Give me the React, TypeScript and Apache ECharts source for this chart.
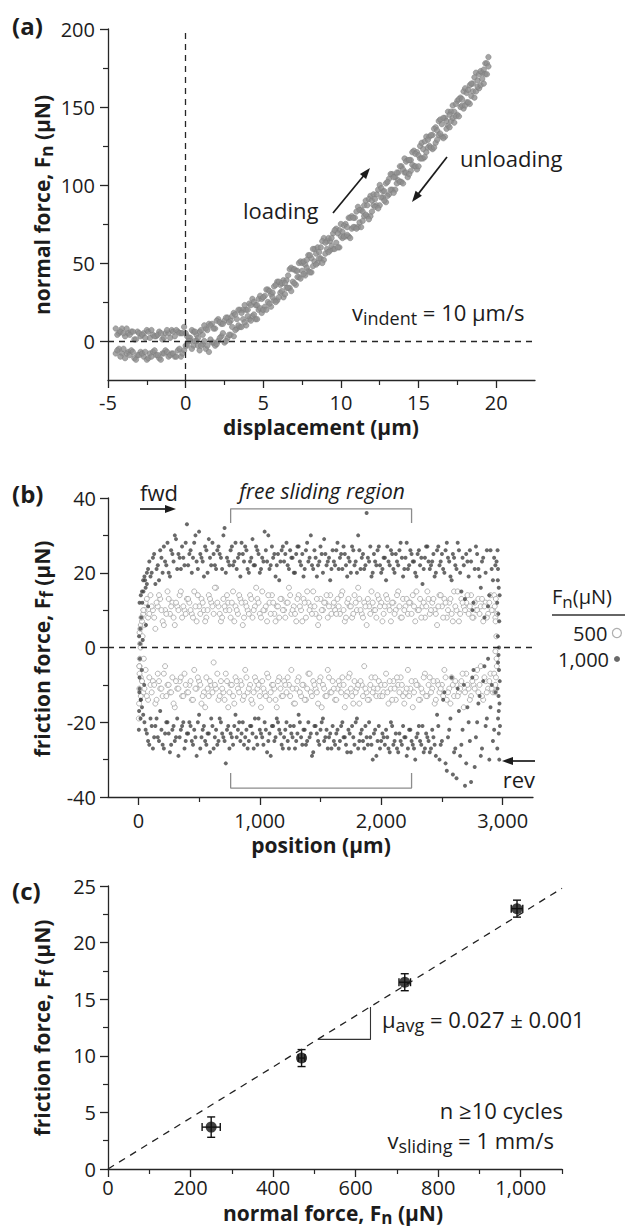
import React, { useEffect, useRef } from 'react';
import * as echarts from 'echarts';

const FONT = "'Open Sans', 'Noto Sans', 'DejaVu Sans', sans-serif";
const INK = '#1c1c1c';
const AXIS = '#262626';

// ---------- Panel (a): indentation ----------
const aDisplacement = [
  -4.5, -4.3, -4.1, -3.9, -3.7, -3.5, -3.3, -3.1, -2.9, -2.7, -2.5, -2.3, -2.1, -1.9, -1.7, -1.5, -1.3, -1.1, -0.9, -0.7,
  -0.5, -0.3, -0.1, 0.1, 0.3, 0.5, 0.7, 0.9, 1.1, 1.3, 1.5, 1.7, 1.9, 2.1, 2.3, 2.5, 2.7, 2.9, 3.1, 3.3,
  3.5, 3.7, 3.9, 4.1, 4.3, 4.5, 4.7, 4.9, 5.1, 5.3, 5.5, 5.7, 5.9, 6.1, 6.3, 6.5, 6.7, 6.9, 7.1, 7.3,
  7.5, 7.7, 7.9, 8.1, 8.3, 8.5, 8.7, 8.9, 9.1, 9.3, 9.5, 9.7, 9.9, 10.1, 10.3, 10.5, 10.7, 10.9, 11.1, 11.3,
  11.5, 11.7, 11.9, 12.1, 12.3, 12.5, 12.7, 12.9, 13.1, 13.3, 13.5, 13.7, 13.9, 14.1, 14.3, 14.5, 14.7, 14.9, 15.1, 15.3,
  15.5, 15.7, 15.9, 16.1, 16.3, 16.5, 16.7, 16.9, 17.1, 17.3, 17.5, 17.7, 17.9, 18.1, 18.3, 18.5, 18.7, 18.9, 19.1, 19.3,
  19.5,
];
const aLoading = [
  8, 5, 8, 3, 5, 6, 1, 6, 3, 5, 7, 2, 4, 3, 6, 1, 5, 5, 7, 3,
  6, 5, 9, 3, 2, 6, 4, 6, 4, 8, 11, 11, 8, 14, 11, 13, 15, 13, 18, 14,
  20, 20, 20, 24, 27, 23, 27, 27, 29, 33, 30, 35, 38, 36, 39, 39, 46, 46, 45, 50,
  50, 49, 55, 53, 59, 60, 60, 66, 64, 64, 69, 72, 71, 70, 75, 79, 80, 79, 86, 84,
  87, 87, 93, 94, 94, 100, 96, 101, 104, 107, 105, 108, 112, 117, 116, 116, 122, 121, 125, 123,
  131, 131, 132, 137, 141, 139, 143, 147, 147, 147, 154, 156, 160, 159, 164, 165, 172, 171, 172, 178,
  182,
];
const aUnloading = [
  -8, -5, -8, -11, -7, -6, -11, -9, -7, -10, -12, -8, -7, -9, -11, -8, -6, -10, -8, -10,
  -6, -10, -6, -3, 0, -3, 0, -6, -2, -5, -7, -1, -3, 0, 3, -1, 2, 4, 3, 8,
  9, 14, 10, 14, 16, 14, 20, 18, 22, 25, 22, 26, 26, 31, 28, 34, 34, 38, 36, 41,
  45, 42, 45, 44, 51, 50, 53, 52, 59, 58, 59, 63, 60, 66, 67, 67, 72, 73, 73, 73,
  80, 80, 80, 87, 87, 87, 92, 89, 94, 97, 97, 103, 102, 108, 105, 109, 112, 110, 117, 117,
  121, 125, 123, 127, 132, 131, 131, 138, 141, 140, 145, 150, 149, 153, 152, 160, 160, 162, 168, 171,
  176,
];
const aDisplacement2 = [
  -4.4, -4.2, -4.0, -3.8, -3.6, -3.4, -3.2, -3.0, -2.8, -2.6, -2.4, -2.2, -2.0, -1.8, -1.6, -1.4, -1.2, -1.0, -0.8, -0.6,
  -0.4, -0.2, 0, 0.2, 0.4, 0.6, 0.8, 1.0, 1.2, 1.4, 1.6, 1.8, 2.0, 2.2, 2.4, 2.6, 2.8, 3.0, 3.2, 3.4,
  3.6, 3.8, 4.0, 4.2, 4.4, 4.6, 4.8, 5.0, 5.2, 5.4, 5.6, 5.8, 6.0, 6.2, 6.4, 6.6, 6.8, 7.0, 7.2, 7.4,
  7.6, 7.8, 8.0, 8.2, 8.4, 8.6, 8.8, 9.0, 9.2, 9.4, 9.6, 9.8, 10.0, 10.2, 10.4, 10.6, 10.8, 11.0, 11.2, 11.4,
  11.6, 11.8, 12.0, 12.2, 12.4, 12.6, 12.8, 13.0, 13.2, 13.4, 13.6, 13.8, 14.0, 14.2, 14.4, 14.6, 14.8, 15.0, 15.2, 15.4,
  15.6, 15.8, 16.0, 16.2, 16.4, 16.6, 16.8, 17.0, 17.2, 17.4, 17.6, 17.8, 18.0, 18.2, 18.4, 18.6, 18.8, 19.0, 19.2, 19.4,
];
const aLoading2 = [
  4, 6, 5, 8, 4, 6, 1, 5, 4, 2, 6, 7, 3, 4, 5, 2, 7, 2, 6, 7,
  5, 5, 5, 2, 7, 6, 2, 7, 10, 7, 10, 8, 13, 12, 11, 15, 12, 16, 17, 20,
  18, 23, 20, 23, 25, 23, 29, 28, 33, 32, 31, 36, 38, 37, 37, 42, 47, 46, 45, 51,
  51, 52, 55, 59, 56, 57, 64, 63, 66, 66, 71, 69, 75, 74, 73, 79, 79, 83, 84, 83,
  90, 91, 90, 91, 97, 98, 96, 102, 107, 105, 108, 112, 110, 115, 116, 121, 120, 119, 127, 128,
  129, 132, 136, 135, 142, 143, 141, 145, 151, 152, 155, 155, 162, 161, 165, 169, 167, 173, 174, 178,
];
const aUnloading2 = [
  -6, -10, -5, -8, -9, -7, -12, -9, -8, -7, -11, -10, -6, -9, -12, -8, -7, -9, -8, -10,
  -5, -8, -3, 0, -5, 0, -3, -3, 0, -3, 1, -1, -2, 2, 5, 0, 4, 9, 7, 10,
  9, 12, 16, 13, 17, 14, 21, 20, 20, 24, 28, 25, 28, 32, 30, 34, 32, 37, 41, 40,
  43, 47, 44, 48, 49, 53, 50, 56, 57, 61, 59, 60, 67, 67, 68, 66, 73, 72, 76, 77,
  81, 78, 83, 86, 85, 92, 90, 93, 97, 95, 101, 102, 101, 108, 107, 113, 112, 112, 117, 118,
  124, 124, 124, 129, 133, 130, 136, 137, 143, 144, 144, 151, 151, 153, 157, 156, 163, 164, 165, 171,
];
const aXLabels = [-5, 0, 5, 10, 15, 20];
const aXMinor = [-2.5, 2.5, 7.5, 12.5, 17.5];
const aYLabels = [0, 50, 100, 150, 200];
const aYMinor = [25, 75, 125, 175];

// ---------- Panel (b): reciprocal sliding ----------
const bPosition = [
  20, 40, 60, 80, 100, 120, 140, 160, 180, 200, 220, 240, 260, 280, 300, 320, 340, 360, 380, 400,
  420, 440, 460, 480, 500, 520, 540, 560, 580, 600, 620, 640, 660, 680, 700, 720, 740, 760, 780, 800,
  820, 840, 860, 880, 900, 920, 940, 960, 980, 1000, 1020, 1040, 1060, 1080, 1100, 1120, 1140, 1160, 1180, 1200,
  1220, 1240, 1260, 1280, 1300, 1320, 1340, 1360, 1380, 1400, 1420, 1440, 1460, 1480, 1500, 1520, 1540, 1560, 1580, 1600,
  1620, 1640, 1660, 1680, 1700, 1720, 1740, 1760, 1780, 1800, 1820, 1840, 1860, 1880, 1900, 1920, 1940, 1960, 1980, 2000,
  2020, 2040, 2060, 2080, 2100, 2120, 2140, 2160, 2180, 2200, 2220, 2240, 2260, 2280, 2300, 2320, 2340, 2360, 2380, 2400,
  2420, 2440, 2460, 2480, 2500, 2520, 2540, 2560, 2580, 2600, 2620, 2640, 2660, 2680, 2700, 2720, 2740, 2760, 2780, 2800,
  2820, 2840, 2860, 2880, 2900, 2920, 2940,
];
const bPosition2 = [
  10, 30, 50, 70, 90, 110, 130, 150, 170, 190, 210, 230, 250, 270, 290, 310, 330, 350, 370, 390,
  410, 430, 450, 470, 490, 510, 530, 550, 570, 590, 610, 630, 650, 670, 690, 710, 730, 750, 770, 790,
  810, 830, 850, 870, 890, 910, 930, 950, 970, 990, 1010, 1030, 1050, 1070, 1090, 1110, 1130, 1150, 1170, 1190,
  1210, 1230, 1250, 1270, 1290, 1310, 1330, 1350, 1370, 1390, 1410, 1430, 1450, 1470, 1490, 1510, 1530, 1550, 1570, 1590,
  1610, 1630, 1650, 1670, 1690, 1710, 1730, 1750, 1770, 1790, 1810, 1830, 1850, 1870, 1890, 1910, 1930, 1950, 1970, 1990,
  2010, 2030, 2050, 2070, 2090, 2110, 2130, 2150, 2170, 2190, 2210, 2230, 2250, 2270, 2290, 2310, 2330, 2350, 2370, 2390,
  2410, 2430, 2450, 2470, 2490, 2510, 2530, 2550, 2570, 2590, 2610, 2630, 2650, 2670, 2690, 2710, 2730, 2750, 2770, 2790,
  2810, 2830, 2850, 2870, 2890, 2910, 2930,
];
const bFwd500 = [
  6, 9, 12, 8, 14, 10, 5, 11, 13, 7, 10, 15, 9, 12, 6, 11, 14, 8, 10, 13,
  12, 9, 15, 7, 11, 13, 10, 8, 14, 12, 9, 16, 11, 7, 13, 10, 12, 8, 15, 11,
  9, 13, 6, 12, 10, 14, 8, 11, 13, 9, 15, 10, 7, 12, 14, 9, 11, 8, 13, 10,
  12, 16, 9, 11, 7, 14, 10, 13, 8, 12, 11, 15, 9, 6, 13, 10, 12, 8, 14, 11,
  10, 13, 9, 15, 7, 12, 11, 8, 14, 10, 13, 9, 12, 6, 11, 15, 10, 8, 13, 12,
  9, 14, 11, 7, 12, 10, 15, 8, 13, 11, 9, 12, 14, 7, 10, 13, 11, 8, 15, 9,
  12, 10, 6, 14, 11, 13, 8, 12, 9, 15, 10, 7, 13, 11, 12, 9, 14, 8, 10, 13,
  11, 7, 12, 9, 14, 10, 8,
];
const bFwd500b = [
  4, 7, 10, 13, 9, 11, 8, 12, 14, 10, 6, 9, 13, 11, 8, 12, 10, 15, 11, 9,
  13, 10, 8, 11, 14, 9, 12, 7, 10, 13, 11, 16, 12, 9, 8, 11, 14, 10, 12, 7,
  10, 14, 12, 8, 11, 9, 13, 10, 16, 12, 8, 10, 11, 14, 9, 12, 7, 11, 13, 10,
  8, 12, 14, 10, 9, 13, 11, 7, 12, 15, 10, 9, 11, 13, 8, 10, 12, 14, 11, 9,
  12, 9, 11, 14, 10, 8, 13, 11, 9, 12, 16, 10, 8, 11, 13, 9, 12, 10, 14, 11,
  7, 11, 13, 10, 12, 9, 14, 11, 8, 10, 13, 12, 9, 11, 15, 10, 8, 12, 11, 13,
  10, 13, 9, 11, 14, 8, 12, 10, 13, 7, 11, 15, 9, 12, 10, 14, 11, 8, 12, 10,
  9, 13, 11, 8, 12, 10, 14,
];
const bRev500 = [
  -8, -12, -6, -14, -10, -9, -15, -7, -11, -13, -5, -10, -12, -8, -16, -11, -9, -13, -7, -12,
  -10, -14, -6, -11, -9, -15, -12, -8, -13, -10, -4, -11, -14, -9, -12, -7, -16, -10, -13, -8,
  -11, -9, -14, -6, -12, -10, -15, -8, -11, -13, -9, -12, -7, -14, -10, -11, -16, -8, -13, -9,
  -12, -10, -6, -15, -11, -8, -13, -10, -14, -7, -12, -9, -11, -15, -8, -10, -13, -6, -12, -9,
  -14, -11, -10, -8, -16, -12, -7, -13, -9, -11, -15, -10, -5, -12, -14, -8, -11, -13, -9, -10,
  -12, -7, -15, -11, -9, -14, -10, -8, -13, -12, -6, -11, -16, -9, -10, -14, -12, -7, -13, -8,
  -11, -15, -9, -12, -10, -6, -14, -11, -8, -13, -10, -12, -9, -16, -7, -11, -13, -10, -8, -12,
  -5, -14, -9, -11, -7, -12, -10,
];
const bRev500b = [
  -5, -9, -11, -13, -8, -12, -10, -14, -9, -11, -7, -13, -10, -12, -15, -9, -11, -8, -13, -10,
  -12, -9, -14, -11, -8, -10, -13, -16, -11, -9, -12, -10, -7, -13, -11, -14, -9, -12, -10, -15,
  -9, -12, -10, -13, -8, -11, -14, -12, -9, -10, -16, -11, -13, -8, -12, -10, -14, -9, -11, -13,
  -10, -8, -13, -11, -15, -9, -12, -10, -14, -11, -7, -13, -10, -12, -9, -16, -11, -13, -8, -12,
  -11, -14, -9, -12, -10, -13, -8, -11, -15, -12, -10, -9, -13, -11, -14, -10, -12, -8, -11, -13,
  -13, -10, -12, -9, -14, -11, -8, -12, -10, -15, -11, -13, -9, -12, -10, -14, -11, -8, -13, -10,
  -12, -9, -14, -10, -11, -13, -8, -12, -15, -10, -9, -13, -11, -7, -12, -10, -14, -9, -11, -6,
  -10, -13, -8, -12, -9, -11, -7,
];
const bFwd1000 = [
  14, 18, 16, 21, 19, 24, 17, 22, 26, 20, 23, 28, 19, 25, 30, 21, 24, 27, 22, 33,
  25, 20, 28, 23, 31, 24, 19, 26, 29, 22, 25, 21, 27, 24, 30, 20, 23, 26, 22, 28,
  24, 19, 25, 27, 21, 23, 29, 22, 26, 20, 24, 31, 23, 21, 27, 25, 22, 18, 26, 23,
  28, 21, 24, 20, 25, 27, 22, 19, 26, 23, 30, 21, 24, 22, 27, 20, 25, 23, 18, 26,
  22, 28, 24, 21, 25, 19, 23, 27, 22, 20, 26, 24, 21, 36, 23, 19, 25, 22, 27, 20,
  24, 18, 23, 26, 21, 25, 22, 28, 19, 24, 21, 26, 23, 20, 25, 22, 17, 24, 27, 21,
  23, 19, 26, 22, 25, 20, 28, 23, 18, 24, 21, 26, 15, 22, 25, 19, 23, 12, 27, 21,
  16, 24, 20, 11, 26, 18, 22,
];
const bFwd1000b = [
  12, 15, 19, 17, 23, 20, 25, 21, 18, 24, 27, 22, 20, 26, 23, 29, 25, 21, 24, 28,
  22, 26, 24, 30, 21, 25, 23, 27, 20, 24, 28, 22, 26, 25, 21, 32, 24, 22, 27, 23,
  21, 25, 28, 23, 26, 20, 24, 22, 27, 25, 21, 23, 26, 30, 22, 24, 19, 25, 23, 27,
  25, 22, 26, 24, 20, 27, 23, 25, 21, 28, 24, 22, 26, 19, 23, 25, 29, 22, 24, 21,
  23, 26, 21, 25, 27, 22, 24, 20, 26, 23, 30, 21, 25, 22, 24, 27, 20, 23, 26, 22,
  21, 24, 27, 22, 25, 20, 23, 26, 24, 21, 28, 22, 25, 23, 19, 26, 24, 21, 27, 23,
  22, 25, 20, 27, 23, 21, 26, 24, 19, 25, 22, 28, 20, 24, 13, 23, 26, 10, 21, 25,
  19, 23, 8, 26, 14, 21, 24,
];
const bRev1000 = [
  -14, -18, -22, -25, -19, -27, -21, -24, -17, -26, -23, -20, -28, -22, -25, -19, -24, -21, -27, -23,
  -20, -25, -22, -29, -18, -24, -21, -26, -23, -19, -27, -22, -25, -20, -24, -31, -21, -23, -26, -18,
  -22, -25, -20, -24, -27, -21, -23, -19, -26, -22, -24, -20, -28, -23, -21, -25, -19, -22, -26, -24,
  -20, -27, -23, -21, -25, -18, -24, -22, -26, -20, -23, -28, -21, -25, -22, -19, -24, -27, -23, -21,
  -26, -22, -25, -20, -24, -28, -23, -21, -26, -19, -25, -22, -27, -24, -20, -26, -23, -29, -21, -25,
  -24, -22, -27, -20, -26, -23, -28, -25, -21, -24, -27, -22, -26, -30, -23, -25, -21, -27, -24, -28,
  -22, -26, -18, -30, -25, -12, -33, -22, -8, -28, -35, -17, -26, -10, -31, -20, -36, -6, -24, -15,
  -29, -9, -21, -3, -16, -25, -12,
];
const bRev1000b = [
  -11, -16, -20, -23, -26, -21, -24, -19, -25, -22, -27, -20, -23, -26, -21, -24, -29, -22, -20, -25,
  -23, -21, -26, -24, -20, -27, -22, -25, -23, -28, -21, -24, -26, -19, -23, -25, -22, -27, -24, -21,
  -24, -20, -23, -26, -22, -25, -21, -27, -24, -19, -23, -26, -22, -25, -29, -21, -24, -20, -23, -27,
  -22, -25, -21, -24, -27, -23, -20, -26, -22, -25, -24, -29, -21, -23, -26, -20, -25, -22, -24, -27,
  -25, -23, -27, -21, -24, -26, -22, -28, -24, -20, -27, -23, -25, -21, -26, -24, -30, -22, -25, -27,
  -23, -26, -24, -28, -21, -25, -27, -23, -26, -24, -29, -22, -25, -27, -24, -21, -26, -28, -23, -25,
  -27, -24, -29, -21, -26, -14, -31, -24, -19, -34, -27, -11, -29, -22, -37, -16, -25, -8, -32, -20,
  -13, -27, -5, -19, -30, -10, -22,
];
// direction reversals (position, friction force)
const bTurn500 = [
  [4, -19], [6, -15], [8, -11], [10, -7], [12, -3], [14, 1], [16, 5], [20, -13], [25, 8], [30, -9],
  [35, 3], [40, 10], [7, -5], [18, 0], [45, -3], [52, 6],
  [2935, 11], [2942, 7], [2948, 3], [2940, -1], [2952, -5], [2945, -8], [2938, -12], [2955, 9], [2950, -3], [2944, 13],
];
const bTurn1000 = [
  [4, -22], [6, -17], [8, -12], [10, -8], [12, -3], [14, 1], [16, 5], [20, -14], [24, 8], [28, -6],
  [32, 12], [36, 2], [42, 15], [48, -10], [55, 18], [62, 6], [70, 20], [80, 11], [6, 3], [18, -19],
  [2958, 26], [2962, 21], [2968, 16], [2955, 12], [2972, 7], [2960, 3], [2966, -2], [2970, -6], [2958, -11], [2974, -15],
  [2962, -19], [2968, -23], [2956, -27], [2972, -30], [2964, 9], [2976, -9], [2960, 18], [2970, 0], [2966, -13], [2978, -21],
  [2950, 23], [2975, 14], [2962, -4], [2968, -17],
];
const bFreeSliding = [760, 2250];
const bXLabels = [0, 1000, 2000, 3000];
const bXMinor = [500, 1500, 2500];
const bYLabels = [-40, -20, 0, 20, 40];
const bYMinor = [-30, -10, 10, 30];

// ---------- Panel (c): friction vs normal force ----------
const cNormalForce = [250, 469, 719, 991];
const cFriction = [3.7, 9.8, 16.5, 23.0];
const cNormalErr = [22, 8, 14, 14];
const cFrictionErr = [0.9, 0.75, 0.75, 0.75];
const cFitX = [0, 1100];
const cFitY = [0, 24.8];
const cXLabels = [0, 200, 400, 600, 800, 1000];
const cXMinor = [100, 300, 500, 700, 900, 1100];
const cYLabels = [0, 5, 10, 15, 20, 25];
const cYMinor = [2.5, 7.5, 12.5, 17.5, 22.5];

const fmt = (v: number) => Number(v).toLocaleString('en-US');
const zip = (xs: number[], ys: number[]) => xs.map((x, i) => [x, ys[i]]);

function mainAxis(dim: 'x' | 'y', gridIndex: number, min: number, max: number, labels: number[], margin: number) {
  return {
    type: 'value', gridIndex, min, max, position: dim === 'x' ? 'bottom' : 'left',
    axisLine: { show: true, onZero: false, lineStyle: { color: AXIS, width: 1.3 } },
    axisTick: { show: true, inside: false, length: 8, customValues: labels, lineStyle: { color: AXIS, width: 1.3 } },
    axisLabel: {
      show: true, customValues: labels, formatter: fmt, margin,
      fontFamily: FONT, fontSize: 20, color: INK, showMinLabel: true, showMaxLabel: true,
    },
    splitLine: { show: false },
  };
}
function minorAxis(dim: 'x' | 'y', gridIndex: number, min: number, max: number, ticks: number[]) {
  return {
    type: 'value', gridIndex, min, max, position: dim === 'x' ? 'bottom' : 'left',
    axisLine: { show: false, onZero: false },
    axisTick: { show: true, inside: false, length: 5, customValues: ticks, lineStyle: { color: AXIS, width: 1.2 } },
    axisLabel: { show: false },
    splitLine: { show: false },
  };
}

const RICH: any = {
  m: { fontFamily: FONT, fontSize: 22, fill: INK },
  s: { fontFamily: FONT, fontSize: 18, fill: INK, padding: [12, 0, 0, 0] },
  b: { fontFamily: FONT, fontSize: 21, fontWeight: 'bold', fill: INK },
  bs: { fontFamily: FONT, fontSize: 17, fontWeight: 'bold', fill: INK, padding: [9, 0, 0, 0] },
  l: { fontFamily: FONT, fontSize: 20, fill: INK },
  ls: { fontFamily: FONT, fontSize: 17, fill: INK, padding: [11, 0, 0, 0] },
  p: { fontFamily: FONT, fontSize: 24, fontWeight: 'bold', fill: INK },
  it: { fontFamily: FONT, fontSize: 21, fontStyle: 'italic', fill: INK },
};

function txt(x: number, y: number, text: string, align = 'left', rotation = 0) {
  return {
    type: 'text', x, y, rotation, silent: true, z: 100,
    style: {
      text, rich: RICH, fill: INK, fontFamily: FONT, fontSize: 22,
      align, verticalAlign: 'middle', textAlign: align, textVerticalAlign: 'middle',
    },
  };
}
function arrow(x1: number, y1: number, x2: number, y2: number) {
  const dx = x2 - x1, dy = y2 - y1, L = Math.hypot(dx, dy), ux = dx / L, uy = dy / L;
  const head = 11, half = 4;
  const bx = x2 - ux * head, by = y2 - uy * head;
  return [
    { type: 'line', silent: true, z: 100, shape: { x1, y1, x2: bx + ux, y2: by + uy }, style: { stroke: INK, lineWidth: 1.7 } },
    {
      type: 'polygon', silent: true, z: 100,
      shape: { points: [[x2, y2], [bx - uy * half, by + ux * half], [bx + uy * half, by - ux * half]] },
      style: { fill: INK },
    },
  ];
}

const dashedZero = (data: any[]) => ({
  silent: true, symbol: ['none', 'none'], label: { show: false },
  lineStyle: { type: [6, 5], color: AXIS, width: 1.3 }, emphasis: { disabled: true }, data,
});

function buildOption() {
  const lightStyle = { color: '#ffffff', borderColor: '#a3a3a3', borderWidth: 1 };
  const darkStyle = { color: '#444444', borderWidth: 0 };
  const aStyle = { color: '#8f8f8f', borderColor: '#7a7a7a', borderWidth: 0.6 };

  const sc = (name: string, xi: number, data: any[], size: number, itemStyle: any, extra: any = {}) => ({
    type: 'scatter', name, xAxisIndex: xi, yAxisIndex: xi, symbolSize: size, silent: true, itemStyle, data, ...extra,
  });

  const series: any[] = [
    // panel a
    sc('loading', 0, zip(aDisplacement, aLoading), 5.5, aStyle),
    sc('loading', 0, zip(aDisplacement2, aLoading2), 5.5, aStyle),
    sc('unloading', 0, zip(aDisplacement, aUnloading), 5.5, aStyle),
    sc('unloading', 0, zip(aDisplacement2, aUnloading2), 5.5, aStyle, { markLine: dashedZero([{ xAxis: 0 }, { yAxis: 0 }]) }),
    // panel b
    sc('500', 2, zip(bPosition, bFwd500), 5, lightStyle),
    sc('500', 2, zip(bPosition2, bFwd500b), 5, lightStyle),
    sc('500', 2, zip(bPosition, bRev500), 5, lightStyle),
    sc('500', 2, zip(bPosition2, bRev500b), 5, lightStyle),
    sc('500', 2, bTurn500, 5, lightStyle),
    sc('1,000', 2, zip(bPosition, bFwd1000), 4, darkStyle),
    sc('1,000', 2, zip(bPosition2, bFwd1000b), 4, darkStyle),
    sc('1,000', 2, zip(bPosition, bRev1000), 4, darkStyle),
    sc('1,000', 2, zip(bPosition2, bRev1000b), 4, darkStyle),
    sc('1,000', 2, bTurn1000, 4, darkStyle),
    {
      type: 'line', name: 'free sliding top', xAxisIndex: 2, yAxisIndex: 2, symbol: 'none', silent: true,
      lineStyle: { color: '#8c8c8c', width: 1.3 },
      data: [[bFreeSliding[0], 33.3], [bFreeSliding[0], 37.1], [bFreeSliding[1], 37.1], [bFreeSliding[1], 33.3]],
      markLine: dashedZero([{ yAxis: 0 }]),
    },
    {
      type: 'line', name: 'free sliding bottom', xAxisIndex: 2, yAxisIndex: 2, symbol: 'none', silent: true,
      lineStyle: { color: '#8c8c8c', width: 1.3 },
      data: [[bFreeSliding[0], -33.6], [bFreeSliding[0], -37.6], [bFreeSliding[1], -37.6], [bFreeSliding[1], -33.6]],
    },
    // panel c
    {
      type: 'line', name: 'fit', xAxisIndex: 4, yAxisIndex: 4, symbol: 'none', silent: true,
      lineStyle: { color: '#222', width: 1.3, type: [7, 6] },
      data: zip(cFitX, cFitY),
    },
    {
      type: 'line', name: 'slope', xAxisIndex: 4, yAxisIndex: 4, symbol: 'none', silent: true,
      lineStyle: { color: '#333', width: 1.1 },
      data: [[508, 11.45], [636, 11.45], [636, 14.3]],
    },
    {
      type: 'custom', name: 'err', xAxisIndex: 4, yAxisIndex: 4, silent: true, z: 3,
      data: cNormalForce.map((x, i) => [x, cFriction[i], cNormalErr[i], cFrictionErr[i]]),
      encode: { x: 0, y: 1 },
      renderItem: (params: any, api: any) => {
        const x = api.value(0), y = api.value(1), xe = api.value(2), ye = api.value(3);
        const t = api.coord([x, y + ye]);
        const b = api.coord([x, y - ye]);
        const l = api.coord([x - xe, y]);
        const r = api.coord([x + xe, y]);
        const cap = 4;
        const st = { stroke: '#111', lineWidth: 1.4 };
        return {
          type: 'group',
          children: [
            { type: 'line', shape: { x1: t[0], y1: t[1], x2: b[0], y2: b[1] }, style: st },
            { type: 'line', shape: { x1: t[0] - cap, y1: t[1], x2: t[0] + cap, y2: t[1] }, style: st },
            { type: 'line', shape: { x1: b[0] - cap, y1: b[1], x2: b[0] + cap, y2: b[1] }, style: st },
            { type: 'line', shape: { x1: l[0], y1: l[1], x2: r[0], y2: r[1] }, style: st },
            { type: 'line', shape: { x1: l[0], y1: l[1] - cap, x2: l[0], y2: l[1] + cap }, style: st },
            { type: 'line', shape: { x1: r[0], y1: r[1] - cap, x2: r[0], y2: r[1] + cap }, style: st },
          ],
        };
      },
    },
    sc('mean', 4, zip(cNormalForce, cFriction), 11, { color: '#111' }, { z: 4 }),
  ];

  const graphics: any[] = [
    // panel labels
    txt(12, 25, '{p|(a)}'),
    txt(12, 493, '{p|(b)}'),
    txt(12, 890, '{p|(c)}'),
    // axis titles
    txt(42, 205, '{b|normal force, F}{bs|n}{b| (µN)}', 'center', Math.PI / 2),
    txt(321, 427, '{b|displacement (µm)}', 'center'),
    txt(42, 649, '{b|friction force, F}{bs|f}{b| (µN)}', 'center', Math.PI / 2),
    txt(321, 845, '{b|position (µm)}', 'center'),
    txt(42, 1028, '{b|friction force, F}{bs|f}{b| (µN)}', 'center', Math.PI / 2),
    txt(333, 1213, '{b|normal force, F}{bs|n}{b| (µN)}', 'center'),
    // panel a annotations
    txt(243, 210, '{m|loading}'),
    ...arrow(333, 213, 370, 168),
    txt(460, 158, '{m|unloading}'),
    ...arrow(447, 157, 412, 202),
    txt(352, 312, '{m|v}{s|indent}{m| = 10 µm/s}'),
    // panel b annotations
    txt(140, 492, '{m|fwd}'),
    ...arrow(140, 509, 176, 509),
    txt(322, 491, '{it|free sliding region}', 'center'),
    txt(535, 779, '{m|rev}', 'right'),
    ...arrow(535, 761, 502, 761),
    txt(552, 596, '{l|F}{ls|n}{l|(µN)}'),
    { type: 'line', silent: true, z: 100, shape: { x1: 552, y1: 615, x2: 625, y2: 615 }, style: { stroke: '#333', lineWidth: 1.3 } },
    // panel c annotations
    txt(382, 1019, '{m|μ}{s|avg}{m| = 0.027 ± 0.001}'),
    txt(563, 1110, '{m|n ≥10 cycles}', 'right'),
    txt(554, 1140, '{m|v}{s|sliding}{m| = 1 mm/s}', 'right'),
  ];

  return {
    animation: false,
    backgroundColor: '#ffffff',
    textStyle: { fontFamily: FONT },
    grid: [
      { left: 108, top: 29, width: 427, height: 351, containLabel: false, outerBoundsMode: 'none' },
      { left: 108, top: 498, width: 425, height: 299, containLabel: false, outerBoundsMode: 'none' },
      { left: 108, top: 886, width: 454, height: 283, containLabel: false, outerBoundsMode: 'none' },
    ],
    xAxis: [
      mainAxis('x', 0, -5, 22.5, aXLabels, 12),
      minorAxis('x', 0, -5, 22.5, aXMinor),
      mainAxis('x', 1, -250, 3250, bXLabels, 13),
      minorAxis('x', 1, -250, 3250, bXMinor),
      mainAxis('x', 2, 0, 1100, cXLabels, 8),
      minorAxis('x', 2, 0, 1100, cXMinor),
    ],
    yAxis: [
      mainAxis('y', 0, -25, 200, aYLabels, 13),
      minorAxis('y', 0, -25, 200, aYMinor),
      mainAxis('y', 1, -40, 40, bYLabels, 12),
      minorAxis('y', 1, -40, 40, bYMinor),
      mainAxis('y', 2, 0, 25, cYLabels, 12),
      minorAxis('y', 2, 0, 25, cYMinor),
    ],
    legend: [
      {
        show: true, selectedMode: false, orient: 'horizontal', right: 7, top: 623, align: 'right',
        padding: 0, itemGap: 0, itemWidth: 9, itemHeight: 9,
        textStyle: { fontFamily: FONT, fontSize: 20, color: INK },
        data: [{ name: '500', icon: 'circle', itemStyle: { color: '#fff', borderColor: '#9a9a9a', borderWidth: 1.2 } }],
      },
      {
        show: true, selectedMode: false, orient: 'horizontal', right: 9, top: 649, align: 'right',
        padding: 0, itemGap: 0, itemWidth: 6, itemHeight: 6,
        textStyle: { fontFamily: FONT, fontSize: 20, color: INK },
        data: [{ name: '1,000', icon: 'circle', itemStyle: { color: '#444', borderWidth: 0 } }],
      },
    ],
    series,
    graphic: { elements: graphics },
  };
}

export default function App() {
  const ref = useRef<HTMLDivElement>(null);
  useEffect(() => {
    if (!ref.current) return;
    const chart = echarts.init(ref.current, null, { renderer: 'svg' });
    chart.setOption(buildOption() as any);
    return () => chart.dispose();
  }, []);
  return (
    <div
      ref={ref}
      style={{ position: 'absolute', left: 0, top: 0, width: 629, height: 1229, background: '#fff' }}
    />
  );
}
